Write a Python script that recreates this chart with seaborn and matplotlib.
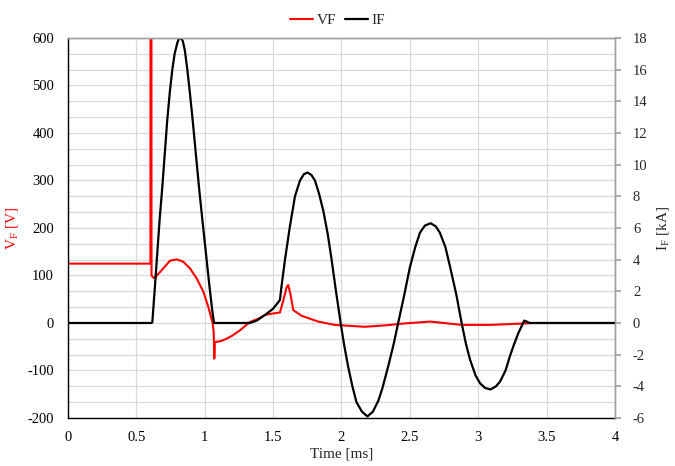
import numpy as np
import pandas as pd
import matplotlib
matplotlib.use("Agg")
import matplotlib.pyplot as plt
from matplotlib.ticker import MultipleLocator
import seaborn as sns

# --- Data (time in ms) ---
vf_time = [0.0, 0.603, 0.604, 0.610, 0.611, 0.625, 0.64, 0.66, 0.697, 0.746, 0.795,
           0.843, 0.892, 0.941, 0.99, 1.026, 1.058, 1.066, 1.070, 1.074, 1.078,
           1.12, 1.16, 1.2, 1.26, 1.33, 1.4, 1.44, 1.5, 1.55, 1.575, 1.6, 1.611,
           1.626, 1.648, 1.71, 1.83, 1.95, 2.17, 2.32, 2.46, 2.65, 2.88, 3.09,
           3.33, 3.4, 4.0]
vf_volts = [125, 125, 900, 900, 100, 95, 97, 103, 115, 131, 134,
            129, 115, 94, 66, 34, 0, -20, -75, -42, -40,
            -38, -33, -27, -15, 2, 10, 17, 20, 22, 48, 76, 80,
            62, 27, 15, 3, -4, -8, -5, -1, 3, -4, -4,
            -1, 0, 0]

if_time = [0.0, 0.612, 0.617, 0.635, 0.653, 0.67, 0.69, 0.708, 0.726, 0.745, 0.763,
           0.78, 0.80, 0.81, 0.82, 0.83, 0.84, 0.855, 0.873, 0.892, 0.912, 0.935, 0.958,
           0.983, 1.009, 1.035, 1.055, 1.068, 1.33, 1.38, 1.44, 1.5, 1.55, 1.56,
           1.587, 1.623, 1.66, 1.697, 1.725, 1.753, 1.78, 1.806, 1.835, 1.867,
           1.9, 1.928, 1.96, 1.996, 2.02, 2.05, 2.08, 2.11, 2.15, 2.19, 2.23,
           2.27, 2.3, 2.34, 2.38, 2.415, 2.46, 2.5, 2.54, 2.574, 2.61, 2.652,
           2.69, 2.72, 2.76, 2.793, 2.84, 2.879, 2.91, 2.94, 2.98, 3.013, 3.05,
           3.09, 3.13, 3.16, 3.2, 3.232, 3.26, 3.293, 3.337, 3.378, 4.0]
if_kamps = [0, 0, 0.05, 2.2, 4.4, 6.5, 8.6, 10.7, 12.8, 14.6, 16.0,
            17.0, 17.7, 17.93, 18.0, 17.95, 17.8, 17.2, 16.0, 14.5, 12.8, 10.7, 8.6,
            6.5, 4.4, 2.3, 0.8, 0, 0, 0.15, 0.5, 0.9, 1.45, 2.2,
            4.0, 6.1, 8.0, 9.0, 9.4, 9.5, 9.35, 9.0, 8.2, 7.1,
            5.6, 4.0, 2.0, -0.1, -1.4, -2.8, -4.0, -5.0, -5.6, -5.9, -5.6,
            -4.9, -4.1, -2.8, -1.4, 0, 1.8, 3.5, 4.8, 5.7, 6.15, 6.3,
            6.1, 5.7, 4.8, 3.6, 1.8, 0, -1.3, -2.3, -3.3, -3.8, -4.1,
            -4.2, -4.0, -3.7, -3.0, -2.1, -1.4, -0.65, 0.15, 0, 0]

vf_ticks = [-200, -100, 0, 100, 200, 300, 400, 500, 600]
if_ticks = [-6, -4, -2, 0, 2, 4, 6, 8, 10, 12, 14, 16, 18]
time_ticks = [0, 0.5, 1, 1.5, 2, 2.5, 3, 3.5, 4]
time_labels = ["0", "0.5", "1", "1.5", "2", "2.5", "3", "3.5", "4"]

df_vf = pd.DataFrame({"t": vf_time, "v": vf_volts})
df_if = pd.DataFrame({"t": if_time, "i": if_kamps})

# --- Style ---
sns.set_theme(style="white")
plt.rcParams["font.family"] = ["Liberation Serif", "DejaVu Serif"]
plt.rcParams["font.size"] = 11
plt.rcParams["mathtext.fontset"] = "stix"
plt.rcParams["axes.unicode_minus"] = False

GRID = "#d9d9d9"
TICK_FS = 10.5

fig, ax = plt.subplots(figsize=(6.75, 4.66), dpi=100)
fig.subplots_adjust(left=0.1007, right=0.911, top=0.9185, bottom=0.103)
ax2 = ax.twinx()

sns.lineplot(data=df_vf, x="t", y="v", ax=ax, color="#ff0000", linewidth=1.5,
             estimator=None, sort=False, label="VF", legend=False)
sns.lineplot(data=df_if, x="t", y="i", ax=ax2, color="black", linewidth=1.6,
             estimator=None, sort=False, label="IF", legend=False)

# left axis
ax.set_xlim(0, 4)
ax.set_ylim(-200, 600)
ax.set_yticks(vf_ticks)
ax.yaxis.set_minor_locator(MultipleLocator(100 / 3))
ax.set_xticks(time_ticks)
ax.set_xticklabels(time_labels)
ax.grid(True, which="both", axis="y", color=GRID, linewidth=0.9)
ax.grid(True, which="major", axis="x", color=GRID, linewidth=0.9)
ax.set_axisbelow(True)
ax.tick_params(axis="both", which="both", length=0, labelsize=TICK_FS, colors="black")
ax.tick_params(axis="y", pad=10)
ax.tick_params(axis="x", pad=9)
ax.set_xlabel("Time [ms]", fontsize=11, labelpad=3)
ax.set_ylabel(r"V$_\mathregular{F}$ [V]", color="#ff0000", fontsize=11)
ax.yaxis.set_label_coords(-0.088, 0.5)

# right axis
ax2.set_ylim(-6, 18)
ax2.set_yticks(if_ticks)
ax2.tick_params(axis="y", length=4, color="#a0a0a0", labelsize=TICK_FS, pad=9)
ax2.set_ylabel(r"I$_\mathregular{F}$ [kA]", fontsize=11)
ax2.yaxis.set_label_coords(1.074, 0.5)
ax2.grid(False)

for name, sp in ax.spines.items():
    sp.set_linewidth(1.0)
    sp.set_color("black" if name in ("left", "bottom") else "#a0a0a0")
for name, sp in ax2.spines.items():
    if name in ("left", "bottom"):
        sp.set_visible(False)
    else:
        sp.set_color("#a0a0a0")
        sp.set_linewidth(1.0)

handles = ax.get_lines()[:1] + ax2.get_lines()[:1]
fig.legend(handles, ["VF", "IF"], loc="upper center", bbox_to_anchor=(0.5, 1.0),
           ncol=2, frameon=False, fontsize=11, handlelength=1.5,
           handletextpad=0.2, columnspacing=0.6)

plt.savefig("out.png", dpi=100)
